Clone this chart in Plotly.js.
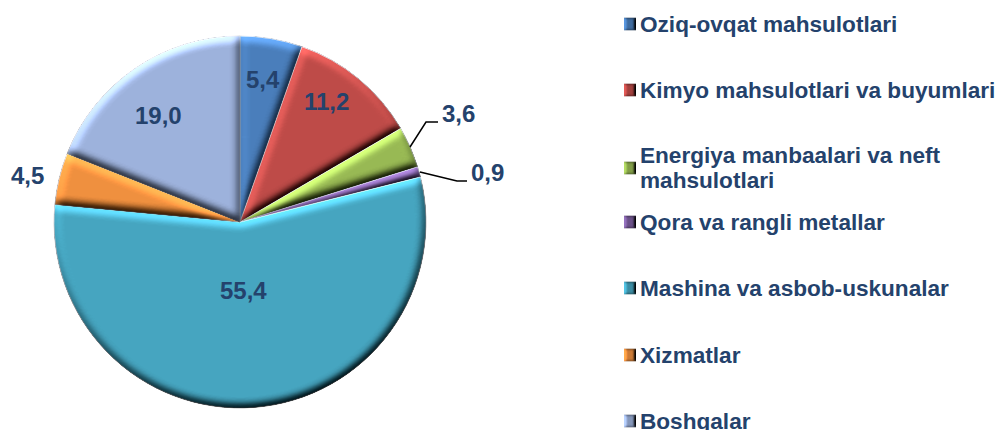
<!DOCTYPE html>
<html><head><meta charset="utf-8">
<script src="https://cdn.plot.ly/plotly-3.0.1.min.js"></script>
<style>html,body{margin:0;padding:0;background:#fff}#c{width:998px;height:430px}</style>
</head><body>
<svg width="0" height="0" style="position:absolute">
<defs>
<filter id="bevel" x="-5%" y="-5%" width="110%" height="110%" color-interpolation-filters="sRGB">
<feGaussianBlur in="SourceAlpha" stdDeviation="4.2" result="h"/>
<feDiffuseLighting in="h" surfaceScale="3.8" diffuseConstant="1" lighting-color="#fff" result="l"><feDistantLight azimuth="250" elevation="45"/></feDiffuseLighting>
<feComposite in="SourceGraphic" in2="l" operator="arithmetic" k1="1.414" k2="0" k3="0.12" k4="-0.085" result="lit"/>
<feComposite in="lit" in2="SourceAlpha" operator="in"/>
</filter>
<filter id="bevelS" x="-5%" y="-5%" width="110%" height="110%" color-interpolation-filters="sRGB">
<feGaussianBlur in="SourceAlpha" stdDeviation="1.6" result="h"/>
<feDiffuseLighting in="h" surfaceScale="2" diffuseConstant="1" lighting-color="#fff" result="l"><feDistantLight azimuth="180" elevation="45"/></feDiffuseLighting>
<feComposite in="SourceGraphic" in2="l" operator="arithmetic" k1="1.2" k2="0" k3="0" k4="0" result="lit"/>
<feComposite in="lit" in2="SourceAlpha" operator="in"/>
</filter>
</defs></svg>
<div id="c"></div>
<script>
var categories=["Oziq-ovqat mahsulotlari","Kimyo mahsulotlari va buyumlari","Energiya manbaalari va neft<br>mahsulotlari","Qora va rangli metallar","Mashina va asbob-uskunalar","Xizmatlar","Boshqalar"];
var values=[5.4,11.2,3.6,0.9,55.4,4.5,19.0];
var labels=["5,4","11,2","3,6","0,9","55,4","4,5","19,0"];
var colors=["#4A7EBB","#BE4B48","#98B954","#7D5FA0","#46A5C0","#F0903F","#9DB2DC"];
var ink="#24426C";
var traces=[{type:"pie",labels:categories,values:values,text:labels,textinfo:"none",sort:false,direction:"clockwise",rotation:0,
 marker:{colors:colors,line:{color:"#c8ccd4",width:0.75}},
 domain:{x:[0.0531,0.4279],y:[0.0512,0.9163]},showlegend:false}];
var layout={width:998,height:430,margin:{l:0,r:0,t:0,b:0},paper_bgcolor:"#fff",
 font:{family:"Liberation Sans, Arial, sans-serif",size:20,color:ink},showlegend:false,
 shapes:[],annotations:[]};
var labelX=[263,326,458,487,243,27,158],labelY=[79,101,114,172,290,175,115];
for(var i=0;i<7;i++){
 layout.annotations.push({xref:"paper",yref:"paper",x:labelX[i]/998,y:1-labelY[i]/430,text:"<b>"+labels[i]+"</b>",showarrow:false,xanchor:"center",yanchor:"middle",font:{size:24,color:ink}});
}
var leaders=[[[410,147],[426,122],[438,122]],[[420,172],[457,181],[467,181]]];
leaders.forEach(function(p){
 var d=p.map(function(q,k){return (k?"L":"M")+(q[0]/998)+" "+(1-q[1]/430);}).join(" ");
 layout.shapes.push({type:"path",xref:"paper",yref:"paper",path:d,line:{color:"#000",width:1.5}});
});
var legendY=[24,90,168,222,288,355,421];
for(var j=0;j<7;j++){
 layout.shapes.push({type:"rect",xref:"paper",yref:"paper",x0:624/998,x1:636/998,y0:1-(legendY[j]+6.5)/430,y1:1-(legendY[j]-6.5)/430,fillcolor:colors[j],line:{width:0}});
 var lines=categories[j].split("<br>");
 var firstY=legendY[j]-(lines.length-1)*12.5;
 lines.forEach(function(t,k){
  layout.annotations.push({xref:"paper",yref:"paper",x:638/998,y:1-(firstY+k*25)/430,text:"<b>"+t+"</b>",showarrow:false,xanchor:"left",yanchor:"middle",align:"left",font:{size:22.6,color:ink}});
 });
}
Plotly.newPlot("c",traces,layout,{displayModeBar:false,staticPlot:true}).then(function(gd){
 gd.querySelectorAll(".slice path.surface").forEach(function(p){p.style.filter="url(#bevel)";});
 gd.querySelectorAll(".shapelayer path").forEach(function(p){
  if(/Z\s*$/i.test(p.getAttribute("d")||""))p.style.filter="url(#bevelS)";
 });
});
</script></body></html>
